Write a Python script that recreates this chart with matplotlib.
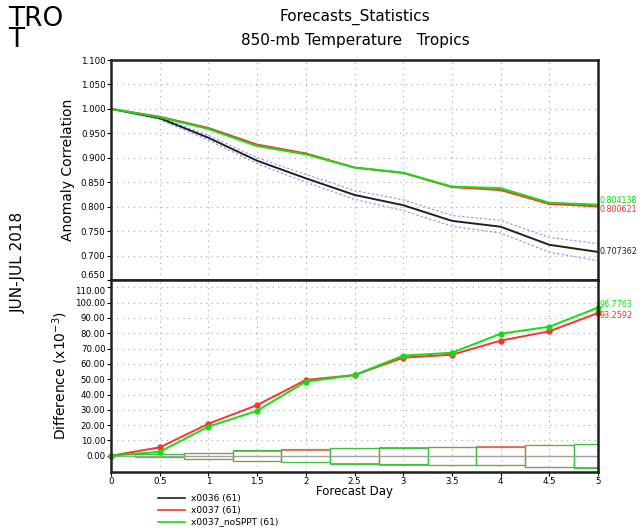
import matplotlib
matplotlib.use("Agg")
import matplotlib.pyplot as plt
from matplotlib.patches import Rectangle

# ---------------- data ----------------
days = [0, 0.5, 1.0, 1.5, 2.0, 2.5, 3.0, 3.5, 4.0, 4.5, 5.0]
ac_x0036 = [1.000, 0.981, 0.941, 0.894, 0.858, 0.824, 0.803, 0.771, 0.759, 0.722, 0.707362]
ac_x0036_hi = [1.000, 0.983, 0.946, 0.900, 0.866, 0.833, 0.814, 0.782, 0.772, 0.737, 0.7245]
ac_x0036_lo = [1.000, 0.978, 0.936, 0.888, 0.850, 0.815, 0.792, 0.760, 0.746, 0.707, 0.6895]
ac_x0037 = [1.000, 0.984, 0.961, 0.927, 0.909, 0.880, 0.869, 0.840, 0.834, 0.8055, 0.800621]
ac_x0037_nosppt = [1.000, 0.983, 0.959, 0.924, 0.907, 0.880, 0.8695, 0.841, 0.838, 0.808, 0.804138]

diff_x0037 = [0.0, 5.5, 20.9, 33.1, 49.5, 52.7, 64.1, 66.0, 75.2, 81.3, 93.2592]
diff_x0037_nosppt = [0.0, 2.6, 19.0, 29.4, 48.4, 52.7, 65.4, 67.3, 79.7, 84.3, 96.7763]
# significance box half-heights (x10^-3) at days 0.5 .. 5
box_days = [0.5, 1.0, 1.5, 2.0, 2.5, 3.0, 3.5, 4.0, 4.5, 5.0]
sig_x0037 = [1.0, 1.8, 3.3, 4.0, 5.0, 5.7, 5.8, 6.2, 7.1, 7.6]
sig_x0037_nosppt = [1.1, 2.0, 3.5, 4.2, 5.1, 5.4, 6.0, 5.8, 7.3, 7.8]

legend_names = ["x0036 (61)", "x0037 (61)", "x0037_noSPPT (61)"]
ac_yticks = [0.650, 0.700, 0.750, 0.800, 0.850, 0.900, 0.950, 1.000, 1.050, 1.100]
diff_yticks = [0, 10, 20, 30, 40, 50, 60, 70, 80, 90, 100, 110]
xticks = [0, 0.5, 1, 1.5, 2, 2.5, 3, 3.5, 4, 4.5, 5]
xticklabels = ["0", "0.5", "1", "1.5", "2", "2.5", "3", "3.5", "4", "4.5", "5"]

# ---------------- figure ----------------
W, H = 643, 530
fig = plt.figure(figsize=(W / 100, H / 100), dpi=100)
fig.patch.set_facecolor("white")

def px(l, t, r, b):
    return [l / W, 1 - b / H, (r - l) / W, (b - t) / H]

ax1 = fig.add_axes(px(111, 60, 598, 280))
ax2 = fig.add_axes(px(111, 280, 598, 471.7))

RED = "#ff3030"
GREEN = "#10e010"
BOXG = "#40c040"
BLUE = "#8090ff"
tick_fs = 6.2

for ax in (ax1, ax2):
    ax.set_xlim(0, 5)
    ax.set_xticks(xticks)
    ax.grid(True, linestyle=(0, (1, 4)), color="#a8a8a8", linewidth=0.8)
    for s in ax.spines.values():
        s.set_linewidth(1.8)
        s.set_color("#202020")
    ax.tick_params(direction="out", length=3, width=0.8, labelsize=tick_fs, pad=1)

# top panel
ax1.set_ylim(0.65, 1.10)
ax1.set_yticks(ac_yticks)
ax1.set_yticklabels(["%.3f" % v for v in ac_yticks])
ax1.get_yticklabels()[0].set_verticalalignment("bottom")
ax1.tick_params(axis="x", labelbottom=False, length=0)
ax1.plot(days, ac_x0036_hi, color=BLUE, lw=0.8, ls=(0, (2, 2)))
ax1.plot(days, ac_x0036_lo, color=BLUE, lw=0.8, ls=(0, (2, 2)))
ax1.plot(days, ac_x0036, color="#202020", lw=1.4)
ax1.plot(days, ac_x0037, color=RED, lw=1.4)
ax1.plot(days, ac_x0037_nosppt, color=GREEN, lw=1.4)
ax1.set_ylabel("Anomaly Correlation", fontsize=10, labelpad=4)
ax1.text(5.02, ac_x0037_nosppt[-1] + 0.009, "%.6f" % ac_x0037_nosppt[-1], color=GREEN,
         fontsize=5.8, va="center", ha="left", clip_on=False)
ax1.text(5.02, ac_x0037[-1] - 0.006, "%.6f" % ac_x0037[-1], color=RED,
         fontsize=5.8, va="center", ha="left", clip_on=False)
ax1.text(5.02, ac_x0036[-1], "%.6f" % ac_x0036[-1], color="#202020",
         fontsize=5.8, va="center", ha="left", clip_on=False)

# bottom panel
ax2.set_ylim(-10.4, 114.8)
ax2.set_yticks(diff_yticks)
ax2.set_yticklabels(["%.2f" % v for v in diff_yticks])
ax2.get_yticklabels()[-1].set_verticalalignment("top")
ax2.set_xticklabels(xticklabels)
ax2.axhline(0, color="#a0a0a0", lw=1.0)
for d, hr, hg in zip(box_days, sig_x0037, sig_x0037_nosppt):
    ax2.add_patch(Rectangle((d - 0.25, -hr), 0.5, 2 * hr, fill=False,
                            edgecolor=RED, lw=0.8, alpha=0.7, clip_on=True))
    ax2.add_patch(Rectangle((d - 0.25, -hg), 0.5, 2 * hg, fill=False,
                            edgecolor=BOXG, lw=0.9, clip_on=True))
ax2.plot(days, diff_x0037, color=RED, lw=1.4, marker="o", ms=3.5, clip_on=False)
ax2.plot(days, diff_x0037_nosppt, color=GREEN, lw=1.4, marker="o", ms=3.5, clip_on=False)
ax2.set_ylabel("Difference (x10$^{-3}$)", fontsize=10, labelpad=4)
ax2.set_xlabel("Forecast Day", fontsize=8.5, labelpad=-1)
ax2.text(5.02, diff_x0037_nosppt[-1] + 1.8, "%.4f" % diff_x0037_nosppt[-1], color=GREEN,
         fontsize=5.8, va="center", ha="left", clip_on=False)
ax2.text(5.02, diff_x0037[-1] - 1.8, "%.4f" % diff_x0037[-1], color=RED,
         fontsize=5.8, va="center", ha="left", clip_on=False)

# titles and side texts
fig.text(355 / W, 1 - 17 / H, "Forecasts_Statistics", fontsize=11, ha="center", va="center")
fig.text(355 / W, 1 - 40 / H, "850-mb Temperature   Tropics", fontsize=11, ha="center", va="center")
fig.text(8 / W, 1 - 6 / H, "TRO\nT", fontsize=19, ha="left", va="top", linespacing=0.75)
fig.text(18 / W, 1 - 262 / H, "JUN-JUL 2018", fontsize=11, rotation=90, ha="center", va="center")

# legend
leg_colors = ["#202020", RED, GREEN]
leg_y = [498, 510, 522]
for name, c, y in zip(legend_names, leg_colors, leg_y):
    fig.add_artist(plt.Line2D([158 / W, 185 / W], [1 - y / H, 1 - y / H], color=c, lw=1.2))
    fig.text(191 / W, 1 - y / H, name, fontsize=6.5, ha="left", va="center")

fig.savefig("out.png", dpi=100)
